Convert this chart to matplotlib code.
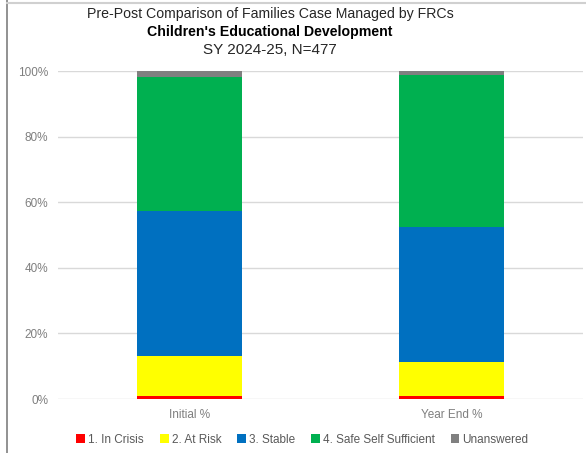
import matplotlib.pyplot as plt
import numpy as np
from matplotlib.lines import Line2D
from matplotlib.ticker import PercentFormatter

plt.rcParams['font.family'] = ['Liberation Sans', 'DejaVu Sans']

# 데이터 (%)
categories = ['Initial %', 'Year End %']
levels = ['1. In Crisis', '2. At Risk', '3. Stable', '4. Safe Self Sufficient', 'Unanswered']
in_crisis = [1.0, 0.8]
at_risk = [12.2, 10.4]
stable = [44.2, 41.4]
safe = [40.9, 46.1]
unanswered = [1.7, 1.3]
colors = ['#FF0000', '#FFFF00', '#0070C0', '#00B050', '#808080']

fig = plt.figure(figsize=(5.86, 4.53), dpi=100)
ax = fig.add_axes([0.099, 0.119, 0.896, 0.724])

x = np.arange(len(categories))
bottom = np.zeros(len(categories))
for name, vals, c in zip(levels, [in_crisis, at_risk, stable, safe, unanswered], colors):
    ax.bar(x, vals, width=0.40, bottom=bottom, color=c, label=name, zorder=3)
    bottom += np.array(vals)

ax.set_xlim(-0.5, 1.5)
ax.set_ylim(0, 100)
ax.set_yticks(np.arange(0, 101, 20))
ax.yaxis.set_major_formatter(PercentFormatter(decimals=0))
ax.set_xticks(x)
ax.set_xticklabels(categories)
ax.tick_params(length=0, labelsize=8.5, colors='#7f7f7f', pad=7)
ax.grid(axis='y', color='#d9d9d9', linewidth=1, zorder=0)
for s in ax.spines.values():
    s.set_visible(False)

# 제목
fig.text(0.461, 0.969, 'Pre-Post Comparison of Families Case Managed by FRCs', ha='center', va='center', fontsize=10.2, color='#262626')
fig.text(0.461, 0.930, "Children's Educational Development", ha='center', va='center', fontsize=10.2, fontweight='bold', color='#000000')
fig.text(0.461, 0.890, 'SY 2024-25, N=477', ha='center', va='center', fontsize=11, color='#262626')

# 범례
leg = fig.legend(loc='center', bbox_to_anchor=(0.516, 0.029), ncol=5, frameon=False,
                 fontsize=8.5, handlelength=0.75, handleheight=0.75, handletextpad=0.25, columnspacing=1.35)
for t in leg.get_texts():
    t.set_color('#595959')

# 테두리
fig.add_artist(Line2D([7/586, 7/586], [0, 1], color='#7f7f7f', linewidth=1.2))
fig.add_artist(Line2D([7/586, 1], [1-3/453, 1-3/453], color='#d0d0d0', linewidth=1.5))

fig.savefig('out.png', dpi=100)
